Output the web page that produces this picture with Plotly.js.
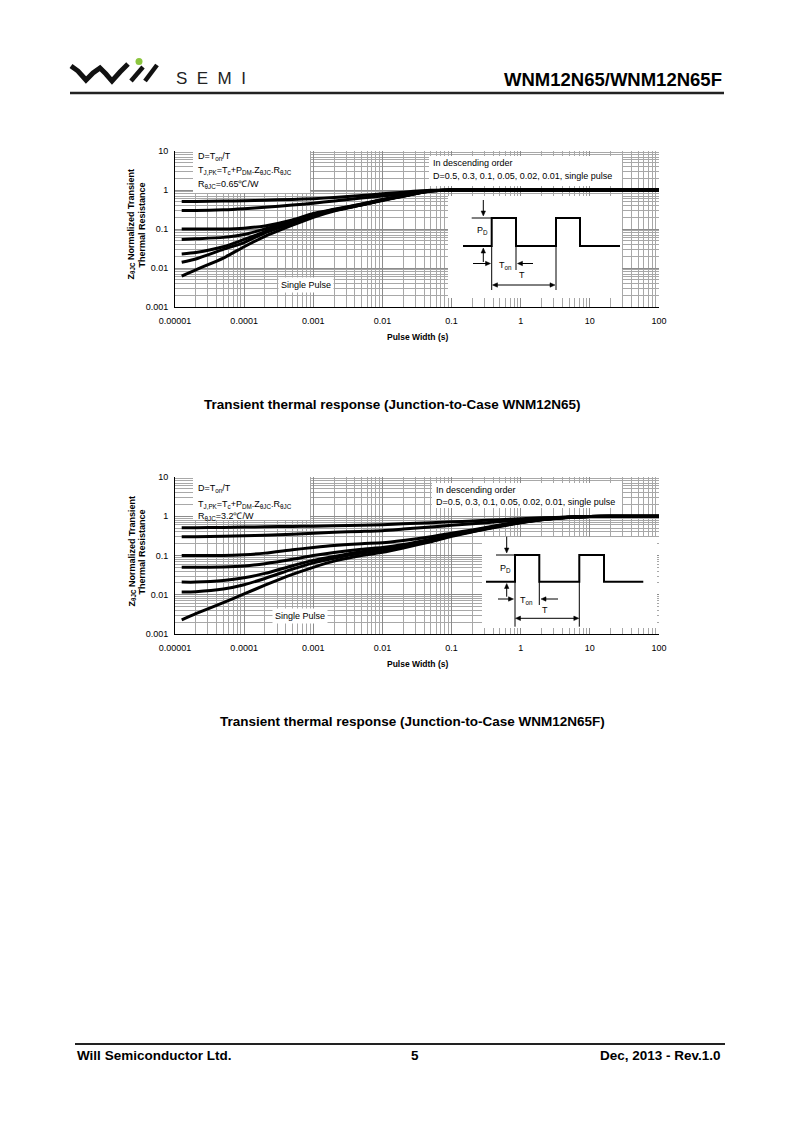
<!DOCTYPE html>
<html><head><meta charset="utf-8">
<script src="https://cdn.plot.ly/plotly-3.0.1.min.js"></script>
<style>html,body{margin:0;padding:0;background:#fff;}#chart{width:800px;height:1131px;}</style>
</head><body><div id="chart"></div>
<script>
// ---------- data ----------
const pulseWidth = [1.25e-5, 2e-5, 5e-5, 1e-4, 2e-4, 5e-4, 1e-3, 2e-3, 5e-3, 1e-2, 2e-2, 5e-2, 0.1, 0.2, 0.5, 1, 2, 5, 10, 20, 100];
const seriesNames = ['D=0.5', 'D=0.3', 'D=0.1', 'D=0.05', 'D=0.02', 'D=0.01', 'Single Pulse'];
const xTickVals = [1e-5, 1e-4, 1e-3, 1e-2, 1e-1, 1, 10, 100];
const xTickText = ['0.00001', '0.0001', '0.001', '0.01', '0.1', '1', '10', '100'];
const yTickVals = [0.001, 0.01, 0.1, 1, 10];
const yTickText = ['0.001', '0.01', '0.1', '1', '10'];

// Chart 1: WNM12N65 (R_thJC = 0.65 C/W)
const zA_d05 = [0.51, 0.51, 0.52, 0.53, 0.55, 0.57, 0.60, 0.64, 0.72, 0.80, 0.88, 0.98, 1, 1, 1, 1, 1, 1, 1, 1, 1];
const zA_d03 = [0.30, 0.30, 0.31, 0.33, 0.36, 0.41, 0.46, 0.52, 0.62, 0.70, 0.80, 0.96, 1, 1, 1, 1, 1, 1, 1, 1, 1];
const zA_d01 = [0.10, 0.10, 0.10, 0.105, 0.12, 0.17, 0.25, 0.32, 0.44, 0.57, 0.72, 0.95, 1, 1, 1, 1, 1, 1, 1, 1, 1];
const zA_d005 = [0.054, 0.056, 0.061, 0.072, 0.10, 0.16, 0.24, 0.31, 0.43, 0.56, 0.71, 0.95, 1, 1, 1, 1, 1, 1, 1, 1, 1];
const zA_d002 = [0.023, 0.025, 0.035, 0.054, 0.085, 0.15, 0.23, 0.30, 0.42, 0.55, 0.70, 0.94, 1, 1, 1, 1, 1, 1, 1, 1, 1];
const zA_d001 = [0.014, 0.017, 0.03, 0.045, 0.08, 0.14, 0.22, 0.30, 0.42, 0.55, 0.70, 0.94, 1, 1, 1, 1, 1, 1, 1, 1, 1];
const zA_single = [0.0062, 0.009, 0.018, 0.035, 0.065, 0.125, 0.20, 0.29, 0.41, 0.54, 0.69, 0.94, 1, 1, 1, 1, 1, 1, 1, 1, 1];

// Chart 2: WNM12N65F (R_thJC = 3.2 C/W)
const zB_d05 = [0.51, 0.51, 0.52, 0.53, 0.54, 0.55, 0.56, 0.57, 0.59, 0.61, 0.64, 0.68, 0.72, 0.76, 0.82, 0.86, 0.91, 0.96, 0.99, 1.0, 1.0];
const zB_d03 = [0.30, 0.30, 0.31, 0.32, 0.33, 0.35, 0.37, 0.39, 0.41, 0.43, 0.47, 0.53, 0.59, 0.64, 0.73, 0.80, 0.87, 0.95, 0.99, 1.0, 1.0];
const zB_d01 = [0.10, 0.10, 0.10, 0.105, 0.115, 0.14, 0.16, 0.18, 0.20, 0.21, 0.24, 0.30, 0.37, 0.45, 0.60, 0.72, 0.83, 0.94, 0.99, 1.0, 1.0];
const zB_d005 = [0.05, 0.05, 0.051, 0.054, 0.062, 0.08, 0.10, 0.12, 0.145, 0.16, 0.19, 0.26, 0.34, 0.43, 0.58, 0.70, 0.82, 0.94, 0.99, 1.0, 1.0];
const zB_d002 = [0.021, 0.021, 0.023, 0.027, 0.035, 0.055, 0.075, 0.095, 0.125, 0.145, 0.18, 0.25, 0.33, 0.42, 0.57, 0.70, 0.82, 0.94, 0.99, 1.0, 1.0];
const zB_d001 = [0.0118, 0.012, 0.014, 0.018, 0.026, 0.045, 0.065, 0.085, 0.115, 0.135, 0.17, 0.24, 0.32, 0.41, 0.56, 0.69, 0.81, 0.93, 0.99, 1.0, 1.0];
const zB_single = [0.0023, 0.0033, 0.0063, 0.0105, 0.0175, 0.033, 0.05, 0.072, 0.10, 0.12, 0.155, 0.225, 0.31, 0.40, 0.55, 0.68, 0.81, 0.93, 0.99, 1.0, 1.0];

// ---------- helpers ----------
const W = 800, H = 1131;
const px = x => x / W;
const py = y => 1 - y / H;
const FF = 'Liberation Sans, Arial, Helvetica, sans-serif';

const seriesA = [zA_d05, zA_d03, zA_d01, zA_d005, zA_d002, zA_d001, zA_single];
const seriesB = [zB_d05, zB_d03, zB_d01, zB_d005, zB_d002, zB_d001, zB_single];

const traces = [];
seriesA.forEach((ys, i) => traces.push({
  x: pulseWidth, y: ys, name: seriesNames[i], type: 'scatter', mode: 'lines',
  xaxis: 'x', yaxis: 'y', line: {color: '#000', width: 3, shape: 'spline', smoothing: 0.6}, hoverinfo: 'skip'
}));
seriesB.forEach((ys, i) => traces.push({
  x: pulseWidth, y: ys, name: seriesNames[i], type: 'scatter', mode: 'lines',
  xaxis: 'x2', yaxis: 'y2', line: {color: '#000', width: 3, shape: 'spline', smoothing: 0.6}, hoverinfo: 'skip'
}));

function xAxis(anchor) {
  return {
    type: 'log', range: [-5, 2], domain: [px(175), px(659)], anchor: anchor,
    tickmode: 'array', tickvals: xTickVals, ticktext: xTickText,
    showgrid: true, gridcolor: '#8c8c8c', gridwidth: 1,
    minor: {tickmode: 'linear', dtick: 'D1', showgrid: true, gridcolor: '#a8a8a8', gridwidth: 1, ticks: ''},
    showline: true, linecolor: '#000', linewidth: 1, ticks: '', zeroline: false,
    tickfont: {family: FF, size: 9, color: '#000'}, ticklabelstandoff: 5, fixedrange: true
  };
}
function yAxis(anchor, top, bottom) {
  return {
    type: 'log', range: [-3, 1], domain: [py(bottom), py(top)], anchor: anchor,
    tickmode: 'array', tickvals: yTickVals, ticktext: yTickText,
    showgrid: true, gridcolor: '#8c8c8c', gridwidth: 1,
    minor: {tickmode: 'linear', dtick: 'D1', showgrid: true, gridcolor: '#a8a8a8', gridwidth: 1, ticks: ''},
    showline: true, linecolor: '#000', linewidth: 1, ticks: '', zeroline: false,
    tickfont: {family: FF, size: 9, color: '#000'}, ticklabelstandoff: 4, fixedrange: true
  };
}

const shapes = [];
const ann = [];
function rect(x0, y0, x1, y1) {
  shapes.push({type: 'rect', xref: 'paper', yref: 'paper', x0: px(x0), x1: px(x1), y0: py(y0), y1: py(y1),
    fillcolor: '#fff', line: {width: 0}, layer: 'above'});
}
function line(x0, y0, x1, y1, w, c) {
  shapes.push({type: 'line', xref: 'paper', yref: 'paper', x0: px(x0), x1: px(x1), y0: py(y0), y1: py(y1),
    line: {color: c || '#000', width: w || 1}, layer: 'above'});
}
function path(pts, w, c, fill) {
  const d = pts.map((p, i) => (i ? 'L' : 'M') + px(p[0]).toFixed(5) + ',' + py(p[1]).toFixed(5)).join(' ') + (fill ? ' Z' : '');
  const s = {type: 'path', xref: 'paper', yref: 'paper', path: d,
    line: {color: c || '#000', width: w || 1}, layer: 'above'};
  if (fill) s.fillcolor = fill;
  shapes.push(s);
}
function txt(t, x, y, size, opts) {
  opts = opts || {};
  ann.push({text: t, x: px(x), y: py(y), xref: 'paper', yref: 'paper', showarrow: false,
    xanchor: opts.xa || 'center', yanchor: 'middle', textangle: opts.angle || 0,
    bgcolor: opts.bg || 'rgba(0,0,0,0)', borderpad: opts.pad || 0,
    font: {family: FF, size: size, color: opts.color || '#000'}});
}
function head(hx, hy, ux, uy) {
  const L = 5, Wd = 2.2;
  const bx = hx - ux * L, by = hy - uy * L;
  path([[hx, hy], [bx - uy * Wd, by + ux * Wd], [bx + uy * Wd, by - ux * Wd]], 0.5, '#000', '#000');
}
function arrow(hx, hy, tx, ty, both) {
  const dx = hx - tx, dy = hy - ty, len = Math.hypot(dx, dy);
  const ux = dx / len, uy = dy / len;
  line(tx + (both ? ux * 4 : 0), ty + (both ? uy * 4 : 0), hx - ux * 4, hy - uy * 4, 1);
  head(hx, hy, ux, uy);
  if (both) head(tx, ty, -ux, -uy);
}

// ---------- header ----------
path([[71, 66], [78, 71], [86, 80], [93, 73], [100, 68], [106, 74], [112, 81], [120, 72], [128, 64]], 5, '#111');
line(131, 81, 143, 67, 4.5, '#111');
line(145, 81, 157, 65, 4.5, '#111');
shapes.push({type: 'circle', xref: 'paper', yref: 'paper', x0: px(135.5), x1: px(142.5), y0: py(58), y1: py(65),
  fillcolor: '#8cc63f', line: {width: 0}, layer: 'above'});
txt('S\u00a0\u00a0E\u00a0\u00a0M\u00a0\u00a0I', 175, 78, 17, {xa: 'left', color: '#222'});
txt('<b>WNM12N65/WNM12N65F</b>', 723, 80, 18.5, {xa: 'right'});
line(70, 93, 724, 93, 2.5, '#222');

// ---------- footer ----------
line(75, 1044, 725, 1044, 2, '#222');
txt('<b>Will Semiconductor Ltd.</b>', 76, 1055, 13.5, {xa: 'left'});
txt('<b>5</b>', 415, 1055, 13.5);
txt('<b>Dec, 2013 - Rev.1.0</b>', 722, 1055, 13.5, {xa: 'right'});

// ---------- chart 1 decorations ----------
rect(193, 151, 310, 193);
rect(429, 156, 622, 186);
rect(448, 196, 622, 298);
txt('D=T<sub>on</sub>/T', 197, 156, 9, {xa: 'left'});
txt('T<sub>J,PK</sub>=T<sub>c</sub>+P<sub>DM</sub>.Z<sub>θJC</sub>.R<sub>θJC</sub>', 197, 171, 9, {xa: 'left'});
txt('R<sub>θJC</sub>=0.65℃/W', 197, 184, 9, {xa: 'left'});
txt('In descending order', 432, 163, 9, {xa: 'left'});
txt('D=0.5, 0.3, 0.1, 0.05, 0.02, 0.01, single pulse', 432, 176, 9, {xa: 'left'});
txt('Single Pulse', 306, 285, 9, {bg: '#fff', pad: 2});
txt('<b>Z<sub>θJC</sub> Normalized Transient</b>', 131.5, 225, 9, {angle: -90});
txt('<b>Thermal Resistance</b>', 141.5, 225, 9, {angle: -90});
txt('<b>Pulse Width (s)</b>', 417, 337, 8.5);
txt('<b>Transient thermal response (Junction-to-Case WNM12N65)</b>', 392, 404, 13.5);
// pulse inset 1
path([[463, 246], [491.7, 246], [491.7, 218], [516, 218], [516, 246], [556, 246], [556, 218], [580, 218], [580, 246], [620, 246]], 2);
line(471.7, 218, 491.7, 218, 1);
line(491.7, 246, 491.7, 290, 1);
line(516, 246, 516, 270, 1);
line(556, 246, 556, 290, 1);
arrow(483.3, 216, 483.3, 200);
arrow(483.3, 248, 483.3, 262);
arrow(490.5, 263.5, 473, 263.5);
arrow(517.5, 263.5, 533, 263.5);
arrow(555, 285, 492.5, 285, true);
txt('P<sub>D</sub>', 482, 230, 9);
txt('T<sub>on</sub>', 505, 265, 9);
txt('T', 521.5, 275, 9);

// ---------- chart 2 decorations ----------
rect(193, 477, 310, 520);
rect(432, 483, 622, 508);
rect(482, 537, 657, 628);
txt('D=T<sub>on</sub>/T', 197, 489, 9, {xa: 'left'});
txt('T<sub>J,PK</sub>=T<sub>c</sub>+P<sub>DM</sub>.Z<sub>θJC</sub>.R<sub>θJC</sub>', 197, 504, 9, {xa: 'left'});
txt('R<sub>θJC</sub>=3.2℃/W', 197, 517, 9, {xa: 'left'});
txt('In descending order', 435, 490, 9, {xa: 'left'});
txt('D=0.5, 0.3, 0.1, 0.05, 0.02, 0.01, single pulse', 435, 502, 9, {xa: 'left'});
txt('Single Pulse', 300, 616, 9, {bg: '#fff', pad: 2});
txt('<b>Z<sub>θJC</sub> Normalized Transient</b>', 131.5, 552, 9, {angle: -90});
txt('<b>Thermal Resistance</b>', 141.5, 552, 9, {angle: -90});
txt('<b>Pulse Width (s)</b>', 417, 664, 8.5);
txt('<b>Transient thermal response (Junction-to-Case WNM12N65F)</b>', 412, 721, 13.5);
// pulse inset 2
path([[486, 581.7], [515, 581.7], [515, 555], [539.3, 555], [539.3, 581.7], [579.3, 581.7], [579.3, 555], [604, 555], [604, 581.7], [643.3, 581.7]], 2);
line(496, 555, 515, 555, 1);
line(515, 581.7, 515, 626.7, 1);
line(539.3, 581.7, 539.3, 605, 1);
line(579.3, 581.7, 579.3, 626.7, 1);
arrow(506.7, 553, 506.7, 536.7);
arrow(506.7, 583.5, 506.7, 596.7);
arrow(513.5, 599, 498, 599);
arrow(541, 599, 558, 599);
arrow(578.8, 618.3, 515.5, 618.3, true);
txt('P<sub>D</sub>', 505, 568.3, 9);
txt('T<sub>on</sub>', 526.7, 600, 9);
txt('T', 545, 610, 9);

const layout = {
  width: W, height: H, margin: {l: 0, r: 0, t: 0, b: 0, pad: 0},
  paper_bgcolor: '#fff', plot_bgcolor: '#fff', showlegend: false,
  xaxis: xAxis('y'), yaxis: yAxis('x', 151, 307),
  xaxis2: xAxis('y2'), yaxis2: yAxis('x2', 477, 634),
  shapes: shapes, annotations: ann
};
Plotly.newPlot('chart', traces, layout, {staticPlot: true, displayModeBar: false});
</script></body></html>
